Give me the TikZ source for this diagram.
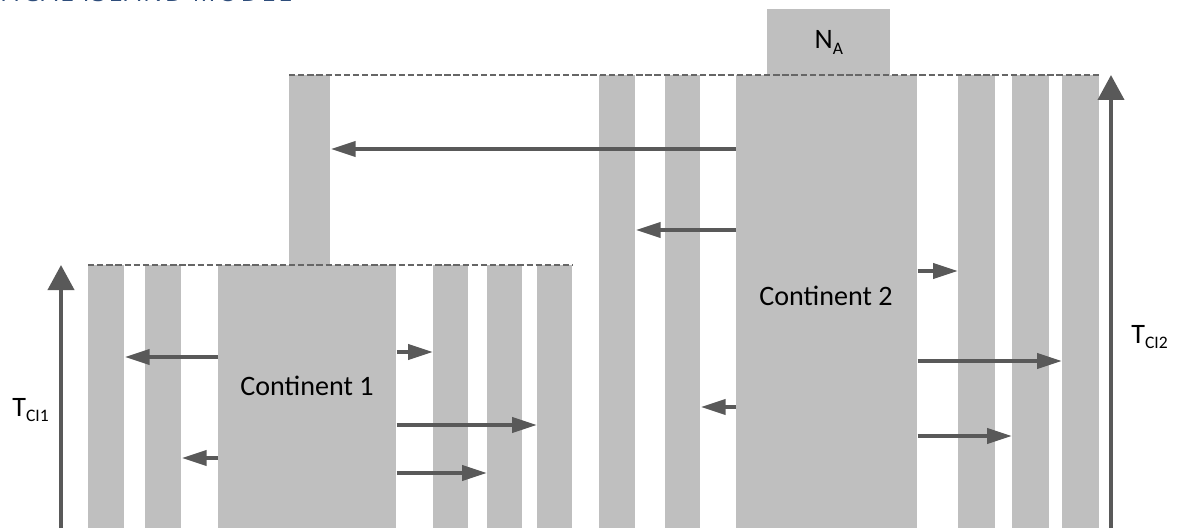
\documentclass[tikz,border=0pt]{standalone}
\usepackage{fontspec}
\setmainfont{Carlito}
\newfontfamily\titlefont[LetterSpace=10]{Open Sans}
\usetikzlibrary{arrows.meta,positioning}
\definecolor{barfill}{HTML}{BFBFBF}
\definecolor{arrowgray}{HTML}{595959}
\definecolor{dashgray}{HTML}{666666}
\definecolor{titleblue}{HTML}{2E4D7B}

\begin{document}
\begin{tikzpicture}[x=0.02cm, y=-0.02cm, font=\fontsize{16}{19}\selectfont,
  isle/.style={fill=barfill, inner sep=0pt, anchor=north west, minimum width=#1},
  low/.style={isle=#1, minimum height=5.26cm},
  high/.style={isle=#1, minimum height=9.06cm},
  mig/.style={draw=arrowgray, line width=2.2pt, -{Triangle[length=0.5cm, width=0.3cm]}},
  axis/.style={draw=arrowgray, line width=2.3pt, -{Triangle[length=0.5cm, width=0.52cm]}},
  rim/.style={draw=dashgray, line width=1.4pt, dash pattern=on 3.6pt off 1.6pt}]
  \useasboundingbox (0,0) rectangle (1180,531);

  % cut-off heading
  \begin{scope}
    \clip (0,0) rectangle (1180,531);
    \node [anchor=base east, inner sep=0pt, text=titleblue,
      font=\titlefont\fontsize{14.5}{17}\selectfont] (title) at (292,1) {ITICAL ISLAND MODEL};
  \end{scope}

  % continent 2 and its islands
  \node [high=0.82cm] (r0) at (289,75) {};
  \node [high=0.72cm] (r1) at (599,75) {};
  \node [high=0.70cm] (r2) at (665,75) {};
  \node [high=3.62cm] (c2) at (736,75) {};
  \node [high=0.74cm] (r3) at (958,75) {};
  \node [high=0.74cm] (r4) at (1012,75) {};
  \node [high=0.74cm] (r5) at (1062,75) {};
  \node [isle=2.46cm, minimum height=1.32cm, font=\fontsize{16}{19}\selectfont]
    (na) at (767,9) {N\raisebox{-3.4pt}{\fontsize{10}{12}\selectfont A}};
  \node (c2txt) at (826,296) {Continent 2};
  \draw [rim] (r0.north west) -- (r5.north east);

  \draw [mig] (c2.west |- 0,149) -- (r0.east |- 0,149);
  \draw [mig] (c2.west |- 0,230) -- (r1.east |- 0,230);
  \draw [mig] (c2.west |- 0,407) -- (r2.east |- 0,407);
  \draw [mig] (c2.east |- 0,271) -- (r3.west |- 0,271);
  \draw [mig] (c2.east |- 0,361) -- (r5.west |- 0,361);
  \draw [mig] (c2.east |- 0,436) -- (r4.west |- 0,436);

  % continent 1 and its islands
  \node [low=0.72cm] (l1) at (88,265) {};
  \node [low=0.72cm] (l2) at (145,265) {};
  \node [low=3.56cm] (c1) at (218,265) {};
  \node [low=0.70cm] (l3) at (433,265) {};
  \node [low=0.70cm] (l4) at (487,265) {};
  \node [low=0.70cm] (l5) at (537,265) {};
  \node (c1txt) at (307,386) {Continent 1};
  \draw [rim] (l1.north west) -- (l5.north east);

  \draw [mig] (c1.west |- 0,357) -- (l1.east |- 0,357);
  \draw [mig] (c1.west |- 0,458) -- (l2.east |- 0,458);
  \draw [mig] (c1.east |- 0,352) -- (l3.west |- 0,352);
  \draw [mig] (c1.east |- 0,425) -- (l5.west |- 0,425);
  \draw [mig] (c1.east |- 0,473) -- (l4.west |- 0,473);

  % time axes
  \coordinate (t1low) at (61,528);
  \coordinate (t1top) at (61,265);
  \coordinate (t2low) at (1111,528);
  \coordinate (t2top) at (1111,75);
  \draw [axis] (t1low) -- (t1top);
  \draw [axis] (t2low) -- (t2top);
  \node [anchor=base west, inner sep=0pt] (tci1) at (12,416)
    {T\raisebox{-3.4pt}{\fontsize{10}{12}\selectfont CI1}};
  \node [anchor=base west, inner sep=0pt] (tci2) at (1131,343)
    {T\raisebox{-3.4pt}{\fontsize{10}{12}\selectfont CI2}};
\end{tikzpicture}
\end{document}
